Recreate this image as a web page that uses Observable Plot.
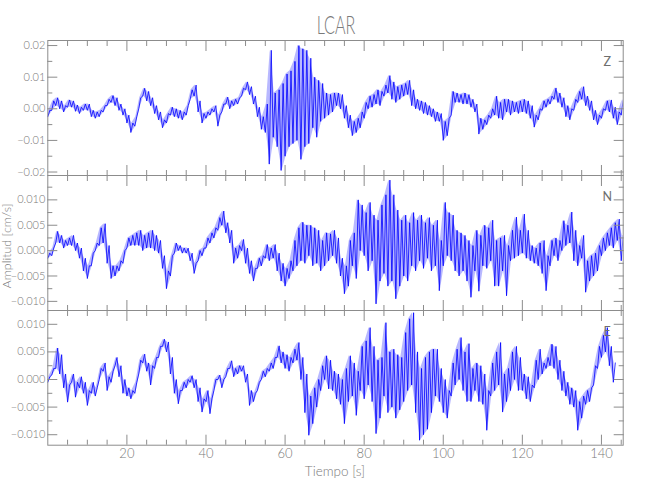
<!DOCTYPE html>
<html>
<head>
<meta charset="utf-8">
<script src="https://cdn.jsdelivr.net/npm/d3@7"></script>
<script src="https://cdn.jsdelivr.net/npm/@observablehq/plot@0.6"></script>
<style>
  html, body { margin: 0; padding: 0; background: #fff; }
  #wrap { position: relative; width: 650px; height: 500px; overflow: hidden; }
  #wrap svg { position: absolute; left: 0; top: 0; }
</style>
</head>
<body>
<div id="wrap"></div>
<script>
// ---------- texts and ticks ----------
const title = "LCAR";
const xLabel = "Tiempo [s]";
const yLabel = "Amplitud [cm/s]";
const components = ["Z", "N", "E"];
const xMajorTicks = [20, 40, 60, 80, 100, 120, 140];
const xMinorTicks = [5, 10, 15, 25, 30, 35, 45, 50, 55, 65, 70, 75, 85, 90, 95, 105, 110, 115, 125, 130, 135, 145];
const zMajorTicks = [-0.02, -0.01, 0, 0.01, 0.02];
const zMinorTicks = [-0.015, -0.005, 0.005, 0.015];
const nMajorTicks = [-0.01, -0.005, 0, 0.005, 0.01];
const nMinorTicks = [-0.0075, -0.0025, 0.0025, 0.0075, 0.0125];
const eMajorTicks = [-0.01, -0.005, 0, 0.005, 0.01];
const eMinorTicks = [-0.0075, -0.0025, 0.0025, 0.0075];

// ---------- traces: lowest / highest reading in each 1-second bin (cm/s) ----------
const zLow = [
 -25e-4,-5e-4,10e-4,0,-10e-4,5e-4,5e-4,-8e-4,-15e-4,-5e-4,
 -5e-4,-25e-4,-30e-4,-25e-4,-10e-4,10e-4,20e-4,10e-4,-5e-4,-20e-4,
 -45e-4,-75e-4,-55e-4,0,40e-4,25e-4,10e-4,-15e-4,-35e-4,-60e-4,
 -45e-4,-20e-4,-25e-4,-30e-4,-35e-4,-20e-4,30e-4,40e-4,-10e-4,-45e-4,
 -30e-4,-20e-4,-10e-4,-55e-4,-10e-4,15e-4,0,10e-4,15e-4,40e-4,
 60e-4,45e-4,15e-4,-25e-4,-65e-4,-75e-4,-175e-4,-90e-4,-120e-4,-195e-4,
 -150e-4,-120e-4,-110e-4,-100e-4,-160e-4,-120e-4,-110e-4,-60e-4,-90e-4,-40e-4,
 -30e-4,-20e-4,-10e-4,10e-4,0,-30e-4,-60e-4,-85e-4,-75e-4,-60e-4,
 -30e-4,0,5e-4,15e-4,10e-4,40e-4,50e-4,30e-4,20e-4,30e-4,
 40e-4,45e-4,10e-4,0,-5e-4,-15e-4,-20e-4,-25e-4,-40e-4,-40e-4,
 -100e-4,-85e-4,-20e-4,20e-4,20e-4,15e-4,15e-4,5e-4,-10e-4,-80e-4,
 -65e-4,-50e-4,-30e-4,-20e-4,-30e-4,-35e-4,-10e-4,-20e-4,-10e-4,-15e-4,
 -10e-4,-15e-4,-30e-4,-58e-4,-35e-4,-5e-4,5e-4,15e-4,30e-4,20e-4,
 5e-4,-25e-4,-35e-4,-5e-4,20e-4,30e-4,10e-4,-5e-4,-35e-4,-50e-4,
 -30e-4,-5e-4,-10e-4,-30e-4,-50e-4,-20e-4
];
const zHigh = [
 -5e-4,25e-4,35e-4,25e-4,10e-4,28e-4,25e-4,12e-4,5e-4,15e-4,
 15e-4,-5e-4,-10e-4,-5e-4,10e-4,30e-4,42e-4,35e-4,15e-4,0,
 -20e-4,-45e-4,-25e-4,35e-4,65e-4,55e-4,35e-4,10e-4,-10e-4,-35e-4,
 -15e-4,5e-4,0,-5e-4,-10e-4,10e-4,60e-4,75e-4,25e-4,-15e-4,
 -10e-4,0,10e-4,-20e-4,15e-4,37e-4,25e-4,30e-4,35e-4,65e-4,
 85e-4,70e-4,40e-4,5e-4,-25e-4,15e-4,185e-4,50e-4,60e-4,80e-4,
 110e-4,120e-4,150e-4,200e-4,190e-4,185e-4,160e-4,100e-4,90e-4,80e-4,
 50e-4,45e-4,50e-4,50e-4,45e-4,10e-4,-20e-4,-40e-4,-30e-4,-10e-4,
 20e-4,40e-4,45e-4,60e-4,55e-4,75e-4,105e-4,85e-4,70e-4,75e-4,
 80e-4,90e-4,60e-4,30e-4,25e-4,20e-4,10e-4,0,-10e-4,-15e-4,
 -40e-4,-30e-4,55e-4,50e-4,45e-4,50e-4,45e-4,30e-4,15e-4,-30e-4,
 -35e-4,-20e-4,0,40e-4,20e-4,30e-4,30e-4,25e-4,20e-4,25e-4,
 30e-4,25e-4,10e-4,-20e-4,0,25e-4,30e-4,40e-4,66e-4,50e-4,
 35e-4,10e-4,0,30e-4,55e-4,70e-4,40e-4,25e-4,-5e-4,-20e-4,
 0,25e-4,28e-4,5e-4,-10e-4,28e-4
];
const nLow = [
 -15e-4,-10e-4,15e-4,15e-4,5e-4,10e-4,10e-4,0,-15e-4,-40e-4,
 -55e-4,-30e-4,0,10e-4,15e-4,-25e-4,-55e-4,-50e-4,-40e-4,-25e-4,
 5e-4,10e-4,10e-4,10e-4,0,5e-4,5e-4,0,-5e-4,-35e-4,
 -75e-4,-50e-4,-5e-4,0,-5e-4,-5e-4,-20e-4,-45e-4,-20e-4,-10e-4,
 5e-4,15e-4,25e-4,40e-4,50e-4,35e-4,15e-4,-25e-4,-15e-4,0,
 -25e-4,-45e-4,-60e-4,-35e-4,-30e-4,-15e-4,-20e-4,-15e-4,-40e-4,-60e-4,
 -70e-4,-55e-4,-40e-4,-30e-4,-20e-4,-25e-4,-10e-4,-30e-4,-25e-4,-40e-4,
 -30e-4,-20e-4,-10e-4,-25e-4,-50e-4,-85e-4,-70e-4,-30e-4,-55e-4,0,
 -10e-4,-40e-4,-20e-4,-105e-4,-60e-4,-45e-4,-70e-4,-60e-4,-95e-4,-70e-4,
 -50e-4,-60e-4,-30e-4,-40e-4,-20e-4,-35e-4,-15e-4,-40e-4,-30e-4,-79e-4,
 -30e-4,-10e-4,-20e-4,-40e-4,-50e-4,-40e-4,-60e-4,-92e-4,-40e-4,-80e-4,
 -30e-4,-35e-4,-20e-4,-70e-4,-70e-4,-40e-4,-89e-4,-20e-4,-15e-4,-10e-4,
 -5e-4,-15e-4,-20e-4,-25e-4,-30e-4,-45e-4,-79e-4,-30e-4,-10e-4,-20e-4,
 0,10e-4,15e-4,-20e-4,-30e-4,-15e-4,-82e-4,-60e-4,-50e-4,-40e-4,
 -10e-4,0,10e-4,5e-4,20e-4,-20e-4
];
const nHigh = [
 -5e-4,5e-4,38e-4,30e-4,20e-4,25e-4,30e-4,15e-4,5e-4,-15e-4,
 -30e-4,-5e-4,15e-4,45e-4,53e-4,10e-4,-30e-4,-30e-4,-20e-4,0,
 25e-4,30e-4,35e-4,40e-4,30e-4,35e-4,40e-4,30e-4,20e-4,-10e-4,
 -40e-4,-10e-4,15e-4,10e-4,5e-4,5e-4,-5e-4,-25e-4,0,5e-4,
 25e-4,35e-4,45e-4,65e-4,78e-4,55e-4,40e-4,5e-4,10e-4,22e-4,
 5e-4,-20e-4,-35e-4,-15e-4,-10e-4,12e-4,5e-4,12e-4,-5e-4,-25e-4,
 -35e-4,-20e-4,20e-4,45e-4,56e-4,50e-4,50e-4,45e-4,40e-4,20e-4,
 35e-4,33e-4,40e-4,25e-4,-15e-4,-30e-4,20e-4,35e-4,100e-4,90e-4,
 75e-4,95e-4,70e-4,60e-4,90e-4,110e-4,139e-4,110e-4,80e-4,60e-4,
 70e-4,55e-4,75e-4,60e-4,70e-4,55e-4,65e-4,50e-4,60e-4,20e-4,
 95e-4,75e-4,70e-4,40e-4,35e-4,30e-4,20e-4,10e-4,40e-4,30e-4,
 50e-4,45e-4,60e-4,20e-4,25e-4,30e-4,10e-4,40e-4,66e-4,40e-4,
 72e-4,40e-4,10e-4,5e-4,15e-4,20e-4,-10e-4,20e-4,25e-4,20e-4,
 59e-4,50e-4,76e-4,40e-4,10e-4,30e-4,-20e-4,-10e-4,-5e-4,10e-4,
 25e-4,35e-4,45e-4,55e-4,62e-4,30e-4
];
const eLow = [
 -5e-4,8e-4,20e-4,10e-4,-15e-4,-41e-4,-5e-4,-32e-4,-15e-4,-25e-4,
 -47e-4,-25e-4,-30e-4,0,15e-4,-20e-4,-5e-4,25e-4,5e-4,-25e-4,
 -30e-4,-35e-4,-25e-4,10e-4,30e-4,15e-4,-10e-4,20e-4,40e-4,60e-4,
 50e-4,10e-4,-25e-4,-44e-4,-20e-4,-15e-4,-5e-4,-15e-4,-40e-4,-59e-4,
 -40e-4,-62e-4,-20e-4,0,-15e-4,5e-4,20e-4,5e-4,10e-4,15e-4,
 -5e-4,-47e-4,-40e-4,-20e-4,0,5e-4,15e-4,20e-4,40e-4,30e-4,
 20e-4,15e-4,30e-4,35e-4,0,-60e-4,-101e-4,-80e-4,-50e-4,-20e-4,
 0,-17e-4,-20e-4,-35e-4,-45e-4,-80e-4,-40e-4,-30e-4,-65e-4,-20e-4,
 -35e-4,-10e-4,-40e-4,-98e-4,-70e-4,-30e-4,-60e-4,-50e-4,-70e-4,-55e-4,
 -40e-4,-20e-4,-10e-4,-60e-4,-110e-4,-100e-4,-90e-4,-60e-4,-30e-4,-40e-4,
 -60e-4,-70e-4,-30e-4,-10e-4,0,-20e-4,-40e-4,-40e-4,-20e-4,-40e-4,
 -45e-4,-92e-4,-30e-4,-20e-4,-10e-4,-59e-4,-40e-4,-20e-4,0,-20e-4,
 -20e-4,-35e-4,-40e-4,-15e-4,0,10e-4,20e-4,25e-4,20e-4,0,
 -20e-4,-30e-4,-45e-4,-50e-4,-92e-4,-70e-4,-45e-4,-40e-4,-10e-4,20e-4,
 40e-4,50e-4,25e-4,-5e-4
];
const eHigh = [
 5e-4,20e-4,57e-4,45e-4,10e-4,-10e-4,10e-4,-5e-4,5e-4,-5e-4,
 -20e-4,-5e-4,-15e-4,20e-4,30e-4,5e-4,15e-4,40e-4,25e-4,0,
 -15e-4,-20e-4,-5e-4,35e-4,46e-4,30e-4,25e-4,40e-4,60e-4,73e-4,
 68e-4,40e-4,0,-20e-4,-5e-4,0,7e-4,0,-15e-4,-35e-4,
 -20e-4,-35e-4,0,8e-4,0,20e-4,34e-4,20e-4,25e-4,25e-4,
 10e-4,-20e-4,-25e-4,-5e-4,15e-4,20e-4,30e-4,40e-4,61e-4,50e-4,
 45e-4,40e-4,55e-4,67e-4,40e-4,10e-4,-30e-4,-15e-4,0,25e-4,
 43e-4,35e-4,15e-4,10e-4,0,20e-4,43e-4,30e-4,15e-4,60e-4,
 70e-4,94e-4,60e-4,35e-4,40e-4,103e-4,50e-4,55e-4,45e-4,40e-4,
 85e-4,110e-4,121e-4,50e-4,20e-4,40e-4,50e-4,55e-4,55e-4,20e-4,
 0,-20e-4,30e-4,55e-4,76e-4,50e-4,65e-4,20e-4,30e-4,25e-4,
 10e-4,-20e-4,30e-4,50e-4,67e-4,10e-4,20e-4,50e-4,60e-4,40e-4,
 10e-4,5e-4,-10e-4,35e-4,55e-4,30e-4,40e-4,64e-4,60e-4,35e-4,
 15e-4,-5e-4,-15e-4,-20e-4,-40e-4,-30e-4,-20e-4,-15e-4,25e-4,60e-4,
 80e-4,94e-4,60e-4,30e-4
];

// ---------- drawing ----------
const FONT = 'Lato, "DejaVu Sans Condensed", sans-serif';
const GREY = "#8c8c8c";
const TEXT = "#7a7a7a";

function panel({name, low, high, yDomain, majors, minors, fmt, top, bottom, xText}) {
  const rows = [];
  const bins = [];
  low.forEach((v, i) => {
    rows.push({t: i, v: v});
    rows.push({t: i + 0.5, v: high[i]});
    bins.push({t: i + 0.25, lo: v, hi: high[i]});
  });
  const marks = [
    Plot.areaY(bins, {x: "t", y1: "lo", y2: "hi", fill: "#0000ff", fillOpacity: 0.28, clip: true}),
    Plot.line(rows, {x: "t", y: "v", stroke: "#0000ff", strokeWidth: 0.8, clip: true}),
    Plot.frame({stroke: GREY}),
    Plot.axisX({anchor: "bottom", ticks: xMajorTicks, tickSize: -10, fill: "none", stroke: GREY, label: null}),
    Plot.axisX({anchor: "bottom", ticks: xMinorTicks, tickSize: -5, fill: "none", stroke: GREY, label: null}),
    Plot.axisX({anchor: "top", ticks: xMajorTicks, tickSize: -10, fill: "none", stroke: GREY, label: null}),
    Plot.axisX({anchor: "top", ticks: xMinorTicks, tickSize: -5, fill: "none", stroke: GREY, label: null}),
    Plot.axisY({anchor: "left", ticks: majors, tickSize: -10, fill: "none", stroke: GREY, label: null}),
    Plot.axisY({anchor: "left", ticks: minors, tickSize: -5, fill: "none", stroke: GREY, label: null}),
    Plot.axisY({anchor: "right", ticks: majors, tickSize: -10, fill: "none", stroke: GREY, label: null}),
    Plot.axisY({anchor: "right", ticks: minors, tickSize: -5, fill: "none", stroke: GREY, label: null}),
    Plot.axisY({anchor: "left", ticks: majors, tickSize: 0, tickPadding: 2.5, tickFormat: fmt,
                fill: TEXT, fontSize: 11, fontWeight: 300, label: null}),
    Plot.text([name], {text: d => d, frameAnchor: "top-right", dx: -16, dy: 21,
                       textAnchor: "middle", lineAnchor: "middle", fill: "#6e6e6e", fontSize: 12.5})
  ];
  if (xText) {
    marks.push(Plot.axisX({anchor: "bottom", ticks: xMajorTicks, tickSize: 0, tickPadding: 3.5,
                           tickFormat: d3.format("d"), fill: TEXT, fontSize: 13, fontWeight: 300, label: null}));
  }
  return Plot.plot({
    width: 650, height: 500,
    marginLeft: 47.3, marginRight: 27.3, marginTop: top, marginBottom: 500 - bottom,
    style: {background: "transparent", overflow: "visible", fontFamily: FONT},
    x: {domain: [0, 145.5]},
    y: {domain: yDomain},
    marks
  });
}

const wrap = document.getElementById("wrap");
wrap.appendChild(panel({name: components[0], low: zLow, high: zHigh, yDomain: [-0.0211, 0.0216],
  majors: zMajorTicks, minors: zMinorTicks, fmt: d3.format(".2f"), top: 40, bottom: 175, xText: false}));
wrap.appendChild(panel({name: components[1], low: nLow, high: nHigh, yDomain: [-0.0118, 0.0148],
  majors: nMajorTicks, minors: nMinorTicks, fmt: d3.format(".3f"), top: 175, bottom: 310, xText: false}));
wrap.appendChild(panel({name: components[2], low: eLow, high: eHigh, yDomain: [-0.0119, 0.0125],
  majors: eMajorTicks, minors: eMinorTicks, fmt: d3.format(".3f"), top: 310, bottom: 444.7, xText: true}));

// overlay texts
const svg = d3.select(wrap).append("svg")
  .attr("width", 650).attr("height", 500)
  .style("font-family", FONT).style("fill", TEXT);
svg.append("text")
  .attr("transform", "translate(336,34) scale(0.62,1)")
  .attr("text-anchor", "middle")
  .style("font-size", "26px").style("font-weight", 300)
  .text(title);
svg.append("text")
  .attr("x", 335).attr("y", 476)
  .attr("text-anchor", "middle")
  .style("font-size", "13.5px").style("font-weight", 300)
  .text(xLabel);
svg.append("text")
  .attr("transform", "translate(11,246) rotate(-90)")
  .attr("text-anchor", "middle")
  .style("font-size", "12.5px").style("font-weight", 300)
  .text(yLabel);
</script>
</body>
</html>
